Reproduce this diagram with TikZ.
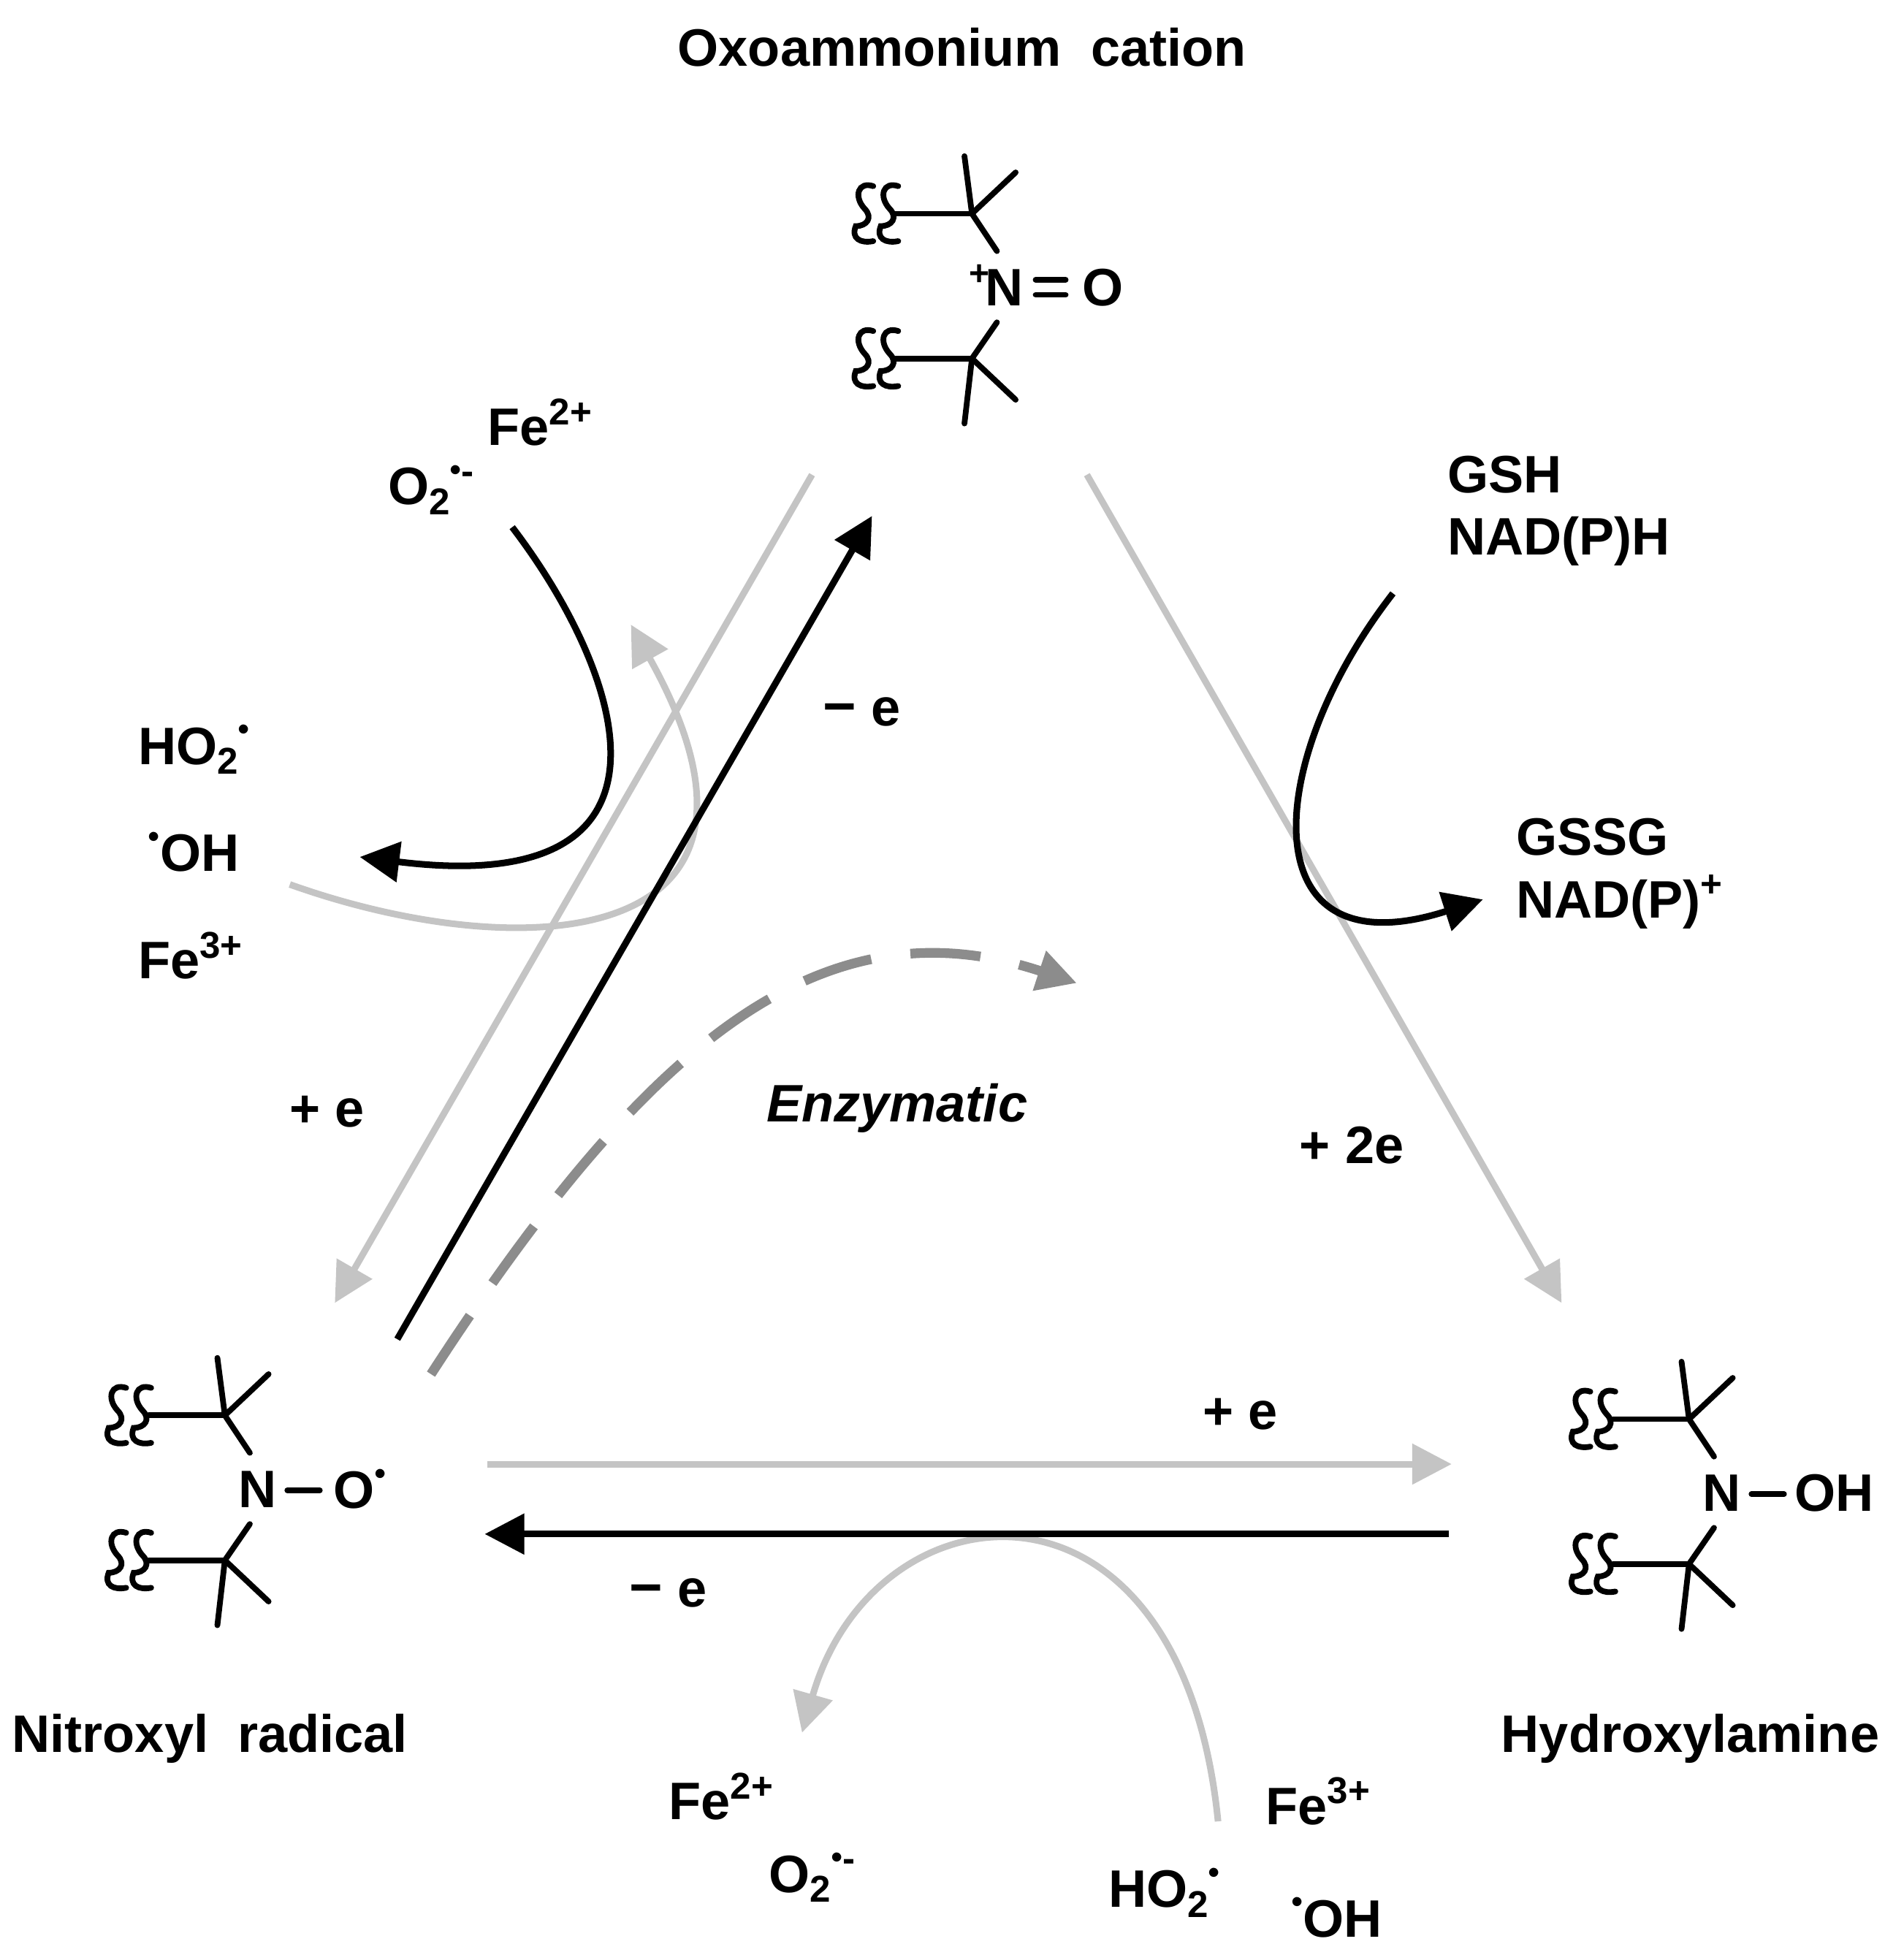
\documentclass[tikz,border=0pt]{standalone}
\usepackage{fontspec}
\setmainfont{Liberation Sans}
\usetikzlibrary{arrows.meta}
\definecolor{lg}{HTML}{C4C4C4}
\definecolor{dg}{HTML}{8C8C8C}
\newcommand{\rdot}{\raisebox{0.55em}{\scalebox{0.45}{$\bullet$}}}
\newcommand{\sbs}[1]{\raisebox{-0.35ex}{\fontsize{8.5}{9}\selectfont #1}}
\newcommand{\sps}[1]{\raisebox{0.75ex}{\fontsize{8.5}{9}\selectfont #1}}
\begin{document}
\begin{tikzpicture}[x=0.01cm,y=-0.01cm,
  lbl/.style={font=\bfseries\fontsize{12}{14}\selectfont,inner sep=0pt},
  bond/.style={line width=1.3pt,line cap=round},
  arr/.style={line width=1.5pt,-{Triangle[length=9pt,width=9pt]}},
  blk/.style={arr,black},
  gry/.style={arr,lg},
  dsh/.style={arr,dg,line width=2.2pt,dash pattern=on 16pt off 9pt}]
\useasboundingbox (0,0) rectangle (1524,1565);
\newcommand{\squig}[2]{\draw[bond] (#1+8,#2-22) .. controls (#1-4,#2-26) and (#1-8,#2-14) .. (#1+1,#2-4) .. controls (#1+8,#2+3) and (#1+3,#2+10) .. (#1-6,#2+10) .. controls (#1-10,#2+20) and (#1-2,#2+24) .. (#1+8,#2+22);}
\newcommand{\tbu}[2]{%
 \draw[bond] (#1-87,#2-57) -- (#1-26,#2-57);
 \draw[bond] (#1-32,#2-103) -- (#1-26,#2-57) -- (#1-6,#2-27);
 \draw[bond] (#1-26,#2-57) -- (#1+9,#2-90);
 \draw[bond] (#1-87,#2+59) -- (#1-26,#2+59);
 \draw[bond] (#1-6,#2+30) -- (#1-26,#2+59) -- (#1-32,#2+111);
 \draw[bond] (#1-26,#2+59) -- (#1+9,#2+92);
 \squig{#1-113}{#2-57}\squig{#1-93}{#2-57}
 \squig{#1-113}{#2+59}\squig{#1-93}{#2+59}}
% structures
\tbu{804}{228}
\node[lbl] (n1) at (804,230) {N};
\node[lbl,font=\bfseries\fontsize{8}{9}\selectfont] (p1) at (784,220) {+};
\draw[bond] (829,224) -- (853,224); \draw[bond] (829,236) -- (853,236);
\node[lbl] (o1) at (883,230) {O};
\tbu{206}{1190}
\node[lbl] (n2) at (206,1192) {N};
\draw[bond] (230,1193) -- (256,1193);
\node[lbl,anchor=west] (o2) at (266,1192) {O\rdot};
\tbu{1378}{1193}
\node[lbl] (n3) at (1378,1195) {N};
\draw[bond] (1402,1196) -- (1428,1196);
\node[lbl,anchor=west] (o3) at (1436,1195) {OH};
% titles
\node[lbl] (t1) at (770,38) {Oxoammonium\ \ cation};
\node[lbl] (t2) at (168,1392) {Nitroxyl\ \ radical};
\node[lbl] (t3) at (1353,1392) {Hydroxylamine};
% labels
\node[lbl] (a1) at (432,338) {Fe\sps{2+}};
\node[lbl] (a2) at (345,392) {O\sbs{2}\rdot\sps{-}};
\node[lbl,anchor=west] (a3) at (1158,380) {GSH};
\node[lbl,anchor=west] (a4) at (1158,433) {NAD(P)H};
\node[lbl,anchor=west] (a5) at (110,600) {HO\sbs{2}\rdot};
\node[lbl,anchor=west] (a6) at (118,682) {\rdot OH};
\node[lbl,anchor=west] (a7) at (110,765) {Fe\sps{3+}};
\node[lbl] (a8) at (690,570) {{\fontsize{13}{14}\selectfont −} e};
\node[lbl,anchor=west] (a9) at (1213,670) {GSSG};
\node[lbl,anchor=west] (a10) at (1213,722) {NAD(P)\sps{+}};
\node[lbl,font=\bfseries\itshape\fontsize{12}{14}\selectfont] (a11) at (718,887) {Enzymatic};
\node[lbl] (a12) at (262,890) {+ e};
\node[lbl] (a13) at (1082,917) {+ 2e};
\node[lbl] (a14) at (993,1132) {+ e};
\node[lbl] (a15) at (535,1275) {{\fontsize{13}{14}\selectfont −} e};
\node[lbl] (a16) at (577,1438) {Fe\sps{2+}};
\node[lbl] (a17) at (650,1503) {O\sbs{2}\rdot\sps{-}};
\node[lbl] (a18) at (1055,1442) {Fe\sps{3+}};
\node[lbl] (a19) at (932,1515) {HO\sbs{2}\rdot};
\node[lbl] (a20) at (1070,1535) {\rdot OH};
% coordinates
\coordinate (g1s) at (650,380); \coordinate (g1e) at (268,1043);
\coordinate (b1s) at (318,1072); \coordinate (b1e) at (698,413);
\coordinate (g2s) at (870,380); \coordinate (g2e) at (1250,1043);
\coordinate (ds) at (345,1100); \coordinate (de) at (862,787);
\coordinate (g3s) at (390,1172); \coordinate (g3e) at (1162,1172);
\coordinate (b3s) at (1160,1228); \coordinate (b3e) at (388,1228);
\coordinate (c1s) at (410,422); \coordinate (c1e) at (288,686);
\coordinate (c2s) at (232,708); \coordinate (c2e) at (505,500);
\coordinate (c3s) at (1115,475); \coordinate (c3e) at (1187,720);
\coordinate (c4s) at (975,1458); \coordinate (c4e) at (642,1387);
% arrows
\draw[gry] (g1s) -- (g1e);
\draw[gry] (c2s) .. controls (420,775) and (650,760) .. (c2e);
\draw[blk] (b1s) -- (b1e);
\draw[blk] (c1s) .. controls (500,540) and (560,720) .. (c1e);
\draw[gry] (g2s) -- (g2e);
\draw[blk] (c3s) .. controls (1010,610) and (1000,780) .. (c3e);
\draw[dsh] (ds) .. controls (520,830) and (660,720) .. (de);
\draw[gry] (g3s) -- (g3e);
\draw[gry] (c4s) .. controls (945,1160) and (700,1185) .. (c4e);
\draw[blk] (b3s) -- (b3e);
\end{tikzpicture}
\end{document}
